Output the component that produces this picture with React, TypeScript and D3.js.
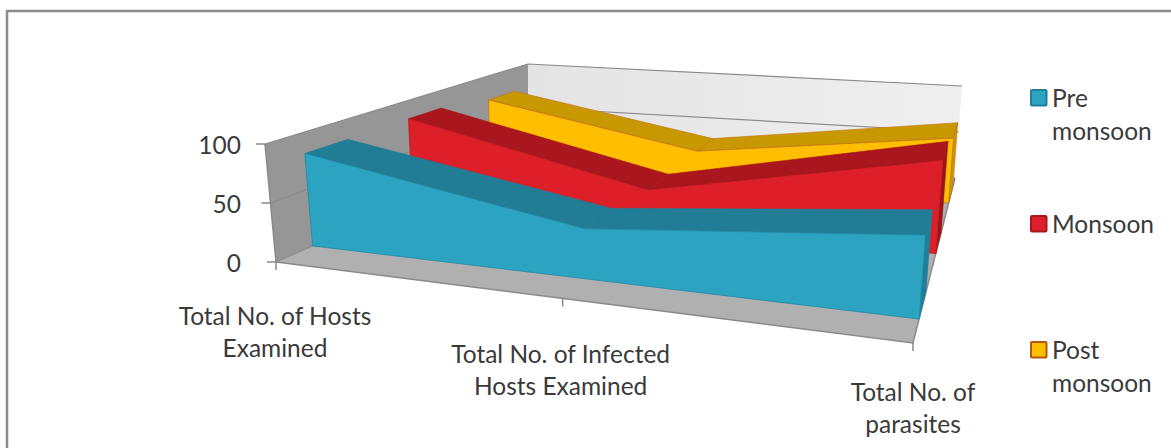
import React from "react";
import * as d3 from "d3";

const categories = ["Total No. of Hosts Examined", "Total No. of Infected Hosts Examined", "Total No. of parasites"];
const categoryStops = [0, 0.45, 1];
const categoryLines = [["Total No. of Hosts", "Examined"], ["Total No. of Infected", "Hosts Examined"], ["Total No. of", "parasites"]];
const seriesNames = ["Pre monsoon", "Monsoon", "Post monsoon"];
const legendLines = [["Pre", "monsoon"], ["Monsoon"], ["Post", "monsoon"]];
const preMonsoon = [81.5, 46, 81.5];
const monsoon = [82, 35, 95];
const postMonsoon = [74, 35, 69];
const seriesValues = [preMonsoon, monsoon, postMonsoon];
const yTicks = [0, 50, 100];

const front = ["#2ca3c1", "#dc1f29", "#ffbf00"];
const top = ["#217d96", "#a9161e", "#c89800"];
const side = ["#1f7f99", "#9c141b", "#c89800"];
const edge = ["#1f8aa6", "#c21a22", "#c4741a"];
const legendBorder = ["#1f7f99", "#a9161e", "#b5560f"];

type P = [number, number];
const mix = (a: P, b: P, t: number): P => [a[0] + (b[0] - a[0]) * t, a[1] + (b[1] - a[1]) * t];

// plot frame: floor plane and the plane at the axis maximum
const floorFL: P = [276, 262], floorFR: P = [913, 343], floorBR: P = [955, 178], floorBL: P = [528, 151];
const ceilFL: P = [265, 144], ceilFR: P = [921, 238], ceilBR: P = [962, 86], ceilBL: P = [528, 64];

const xScale = d3.scaleOrdinal<string, number>().domain(categories).range(categoryStops);
const yScale = d3.scaleLinear().domain([0, 100]).range([0, 1]);
const depth = d3.scaleBand<string>().domain(seriesNames).range([0.015, 1.015]).paddingInner(0.62).paddingOuter(0.26);
const PERSP = 1.45;
const persp = (v: number) => (PERSP * v) / (1 + (PERSP - 1) * v);

function project(u: number, v: number, value: number): P {
  const s = persp(v), t = yScale(value);
  const a = mix(mix(floorFL, floorBL, s), mix(floorFR, floorBR, s), u);
  const b = mix(mix(ceilFL, ceilBL, s), mix(ceilFR, ceilBR, s), u);
  return mix(a, b, t);
}
const poly = d3.line<P>().x(d => d[0]).y(d => d[1]);
const closed = (pts: P[]) => poly(pts) + "Z";

const font = "Lato, 'Open Sans', sans-serif";
const textColor = "#3a3a3a";
const fs = 24.5;

export default function App() {
  const order = [2, 1, 0];
  return (
    <svg width={1171} height={448} style={{ position: "absolute", left: 0, top: 0, display: "block", background: "#fff" }} fontFamily={font}>
      <defs>
        <linearGradient id="wall" x1="0" x2="1" y1="0" y2="0">
          <stop offset="0" stopColor="#e4e4e4" />
          <stop offset="1" stopColor="#efefef" />
        </linearGradient>
      </defs>
      <rect x={7} y={11} width={1300} height={600} fill="#fff" stroke="#8c8c8c" strokeWidth={2.5} />
      {/* walls */}
      <path d={closed([project(0, 1, 0), project(1, 1, 0), project(1, 1, 100), project(0, 1, 100)])} fill="url(#wall)" />
      <path d={closed([project(0, 0, 0), project(0, 1, 0), project(0, 1, 100), project(0, 0, 100)])} fill="#969696" />
      <path d={closed([project(0, 0, 0), project(1, 0, 0), project(1, 1, 0), project(0, 1, 0)])} fill="#b0b0b0" />
      {/* wall edges and gridlines */}
      {yTicks.map(t => (
        <path key={t} d={poly([project(0, 0, t), project(0, 1, t), project(1, 1, t)]) || ""} fill="none" stroke="#8a8a8a" strokeWidth={1.2} />
      ))}
      <path d={poly([project(0, 0, 0), project(1, 0, 0), project(1, 1, 0)]) || ""} fill="none" stroke="#8a8a8a" strokeWidth={1.5} />
      <path d={poly([project(0, 0, 0), project(0, 0, 100)]) || ""} fill="none" stroke="#8a8a8a" strokeWidth={1.5} />
      {/* ticks */}
      {yTicks.map(t => {
        const p = project(0, 0, t);
        return (
          <g key={t}>
            <line x1={p[0] - 9} x2={p[0]} y1={p[1]} y2={p[1]} stroke="#8a8a8a" strokeWidth={1.5} />
            <text x={241} y={p[1] + 9.5} textAnchor="end" fontSize={fs} fill={textColor}>{t}</text>
          </g>
        );
      })}
      {categories.map((c, i) => {
        const p = project(xScale(c), 0, 0);
        return (
          <g key={c}>
            <line x1={p[0]} x2={p[0]} y1={p[1]} y2={p[1] + 8} stroke="#8a8a8a" strokeWidth={1.5} />
            {categoryLines[i].map((l, k) => (
              <text key={k} x={p[0] + (i === 0 ? -1 : i === 1 ? -2 : 0)} y={p[1] + 63 - (i === 0 ? 0 : i === 1 ? -2 : 5) + k * 32} textAnchor="middle" fontSize={fs} fill={textColor}>{l}</text>
            ))}
          </g>
        );
      })}
      {/* series, back to front */}
      {order.map(s => {
        const name = seriesNames[s];
        const v0 = depth(name) as number;
        const v1 = v0 + depth.bandwidth();
        const vals = seriesValues[s];
        const us = categories.map(c => xScale(c));
        const last = us.length - 1;
        const frontTop = us.map((u, i) => project(u, v0, vals[i]));
        const frontBase = us.map(u => project(u, v0, 0));
        return (
          <g key={name}>
            {us.slice(0, last).map((u, i) => (
              <path key={i}
                d={closed([project(u, v0, vals[i]), project(us[i + 1], v0, vals[i + 1]), project(us[i + 1], v1, vals[i + 1]), project(u, v1, vals[i])])}
                fill={top[s]} stroke={s === 2 ? edge[s] : top[s]} strokeWidth={0.6} />
            ))}
            <path d={closed([project(1, v0, vals[last]), project(1, v1, vals[last]), project(1, v1, 0), project(1, v0, 0)])} fill={side[s]} stroke={s === 2 ? edge[s] : side[s]} strokeWidth={0.6} />
            <path d={closed([...frontTop, ...frontBase.slice().reverse()])} fill={front[s]} stroke={edge[s]} strokeWidth={0.8} />
          </g>
        );
      })}
      {/* legend */}
      {seriesNames.map((n, s) => {
        const ys = [98, 224, 350];
        return (
          <g key={n}>
            <rect x={1031} y={ys[s] - 8} width={15.5} height={15.5} rx={1} fill={front[s]} stroke={legendBorder[s]} strokeWidth={2} />
            {legendLines[s].map((l, k) => (
              <text key={k} x={1052} y={ys[s] + 9 + k * 33} fontSize={fs} fill={textColor}>{l}</text>
            ))}
          </g>
        );
      })}
    </svg>
  );
}
